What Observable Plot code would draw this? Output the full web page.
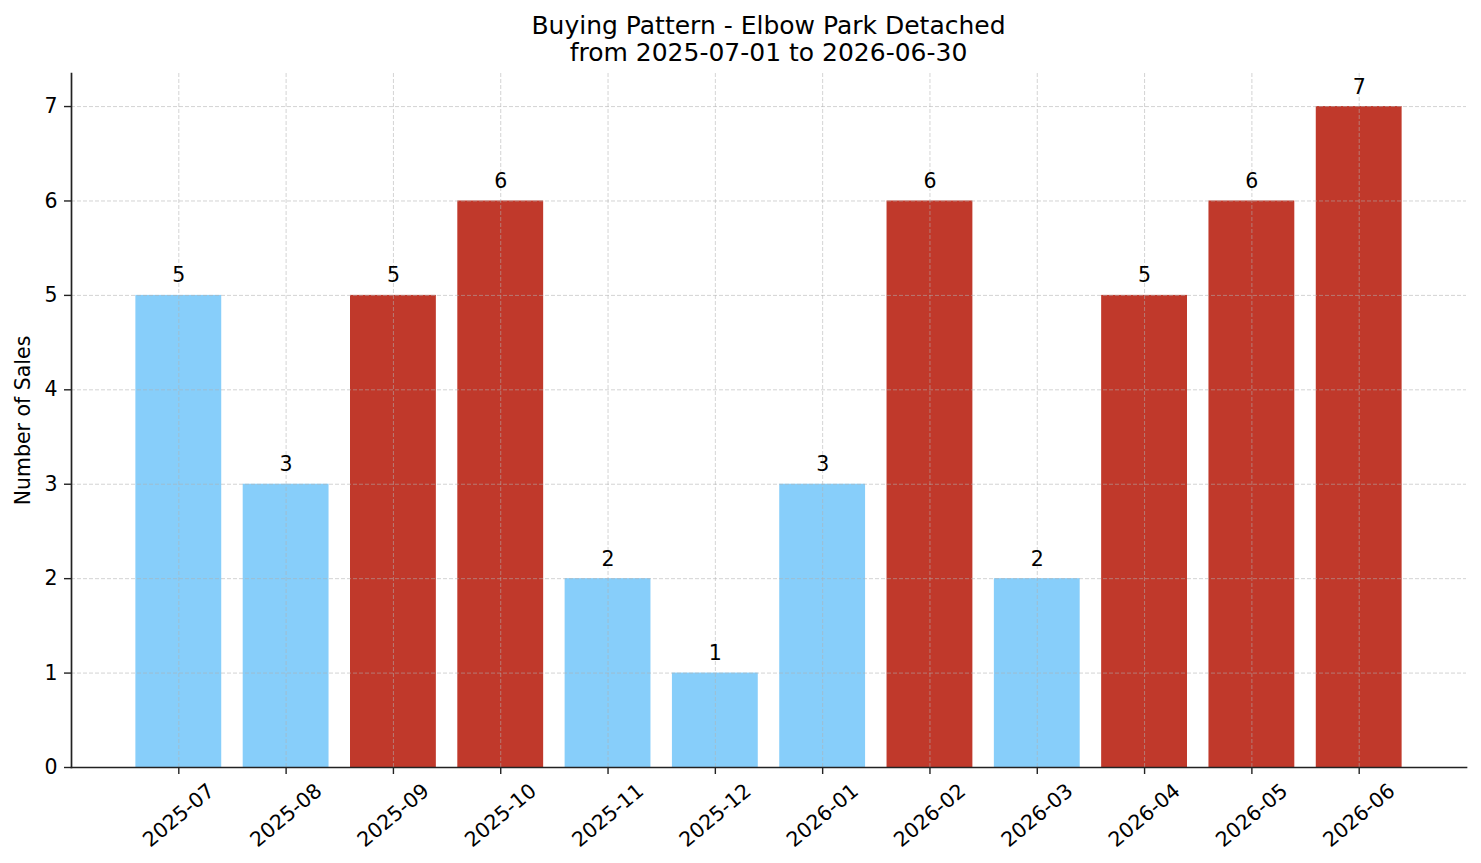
<!DOCTYPE html>
<html>
<head>
<meta charset="utf-8">
<script src="https://cdn.jsdelivr.net/npm/d3@7"></script>
<script src="https://cdn.jsdelivr.net/npm/@observablehq/plot@0.6"></script>
<style>
  html, body { margin: 0; padding: 0; background: #fff; }
  body { width: 1481px; height: 863px; overflow: hidden; font-family: "DejaVu Sans", sans-serif; }
  #title { box-sizing: border-box; height: 66px; padding: 12px 15px 0 71px; text-align: center;
           font-size: 25px; line-height: 27px; color: #000; }
  svg { display: block; }
</style>
</head>
<body>
<div id="title">Buying Pattern - Elbow Park Detached<br>from 2025-07-01 to 2026-06-30</div>
<div id="chart"></div>
<script>
const months = ["2025-07","2025-08","2025-09","2025-10","2025-11","2025-12","2026-01","2026-02","2026-03","2026-04","2026-05","2026-06"];
const sales = [5, 3, 5, 6, 2, 1, 3, 6, 2, 5, 6, 7];
const highlight = [false, false, true, true, false, false, false, true, false, true, true, true];
const yTicks = [0, 1, 2, 3, 4, 5, 6, 7];
const colorBlue = "#87CEFA";
const colorRed = "#C0392B";

const data = months.map((m, i) => ({month: m, sales: sales[i], hot: highlight[i]}));

const chart = Plot.plot({
  width: 1481,
  height: 797,
  marginLeft: 71,
  marginRight: 15,
  marginTop: 7,
  marginBottom: 96,
  style: {fontFamily: "DejaVu Sans, sans-serif", fontSize: "20.5px", color: "#000", background: "#fff"},
  x: {domain: months, paddingInner: 0.2, paddingOuter: 0.6, round: false, label: null},
  y: {domain: [0, 7.35], ticks: yTicks, label: null},
  marks: [
    Plot.barY(data, {x: "month", y: "sales", fill: d => d.hot ? colorRed : colorBlue}),
    Plot.gridX(months, {stroke: "#b0b0b0", strokeOpacity: 0.55, strokeWidth: 1, strokeDasharray: "4,2"}),
    Plot.gridY(yTicks, {stroke: "#b0b0b0", strokeOpacity: 0.55, strokeWidth: 1, strokeDasharray: "4,2"}),
    Plot.text(data, {x: "month", y: "sales", text: d => String(d.sales), lineAnchor: "bottom", dy: -13, fontSize: 20.5, fill: "#000"}),
    Plot.axisY({ticks: yTicks, tickSize: 7, tickPadding: 7, tickFormat: d => String(d), fontSize: 20.5, stroke: "#222", strokeWidth: 1.4, label: null}),
    Plot.axisX({tickSize: 7, tickFormat: () => "", stroke: "#222", strokeWidth: 1.4, label: null}),
    Plot.text(months, {x: d => d, frameAnchor: "bottom", dy: 48, rotate: -40, textAnchor: "middle", lineAnchor: "middle", fontSize: 20.5, fill: "#000"}),
    Plot.text(["Number of Sales"], {frameAnchor: "left", dx: -48, rotate: -90, textAnchor: "middle", lineAnchor: "middle", fontSize: 20.5, fill: "#000"}),
    Plot.frame({anchor: "left", stroke: "#222", strokeWidth: 1.7}),
    Plot.frame({anchor: "bottom", stroke: "#222", strokeWidth: 1.7})
  ]
});
document.getElementById("chart").appendChild(chart);
</script>
</body>
</html>
